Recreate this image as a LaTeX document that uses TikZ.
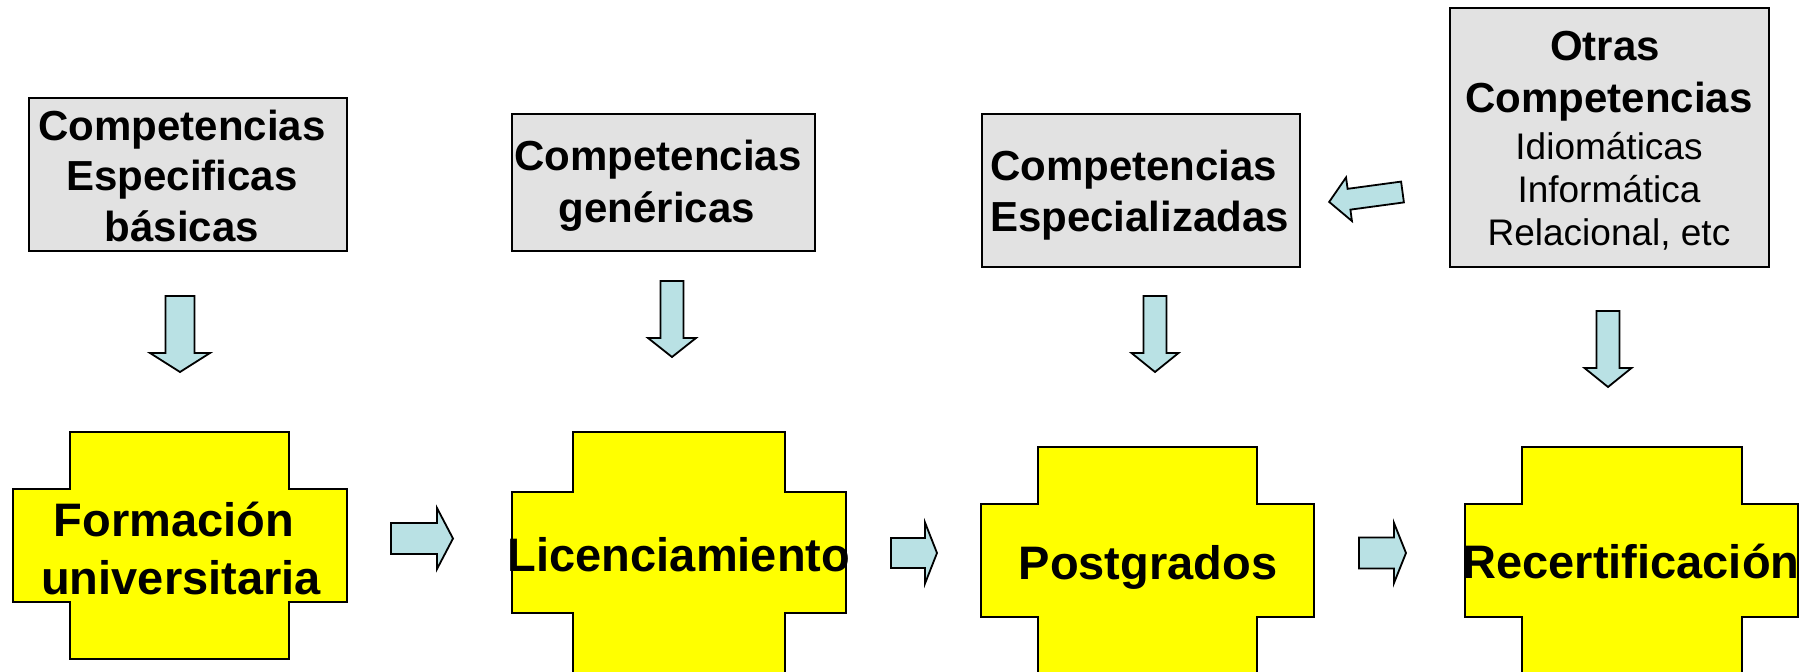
\documentclass[tikz,border=0pt]{standalone}
\usepackage{fontspec}
\setmainfont{Liberation Sans}
\definecolor{boxgray}{RGB}{226,226,226}
\definecolor{arrowblue}{RGB}{185,225,228}
\definecolor{crossyellow}{RGB}{255,255,0}
\newcommand\mybold{\fontsize{42}{50}\selectfont\bfseries}
\newcommand\myreg{\fontsize{37}{43}\selectfont}
\newcommand\mybig{\fontsize{47}{58}\selectfont\bfseries}
\tikzset{
  compbox/.style={rectangle, draw=black, line width=2pt, fill=boxgray, inner sep=0pt},
  crossshape/.style={draw=black, line width=2pt, fill=crossyellow, line join=miter},
  arrowfill/.style={draw=black, line width=1.8pt, fill=arrowblue, line join=miter},
  lbl/.style={inner sep=0pt, anchor=base, text=black},
  lblw/.style={inner sep=0pt, anchor=base west, text=black},
  pics/blockarrow/.style n args={4}{code={
    \filldraw[arrowfill] (0,-#1) -- (#3,-#1) -- (#3,-#2) -- ({#3+#4},0) -- (#3,#2) -- (#3,#1) -- (0,#1) -- cycle;
  }},
}
\begin{document}
\begin{tikzpicture}[x=1pt,y=-1pt]
\useasboundingbox (0,0) rectangle (1813,672);
\clip (0,0) rectangle (1813,672);
\fill[white] (0,0) rectangle (1813,672);

% ---- top boxes ----
\node[compbox, minimum width=318pt, minimum height=153pt] (b1) at (188,174.5) {};
\node[compbox, minimum width=303pt, minimum height=137pt] (b2) at (663.5,182.5) {};
\node[compbox, minimum width=318pt, minimum height=153pt] (b3) at (1141,190.5) {};
\node[compbox, minimum width=319pt, minimum height=259pt] (b4) at (1609.5,137.5) {};

\node[lbl] (t1a) at (182,140) {\mybold Competencias};
\node[lbl] (t1b) at (182,190) {\mybold Especificas};
\node[lbl] (t1c) at (182,241) {\mybold básicas};

\node[lbl] (t2a) at (658,170) {\mybold Competencias};
\node[lbl] (t2b) at (657,222) {\mybold genéricas};

\node[lblw] (t3a) at (990,180) {\mybold Competencias};
\node[lblw] (t3b) at (990,231) {\mybold Especializadas};

\node[lbl] (t4a) at (1605,60) {\mybold Otras};
\node[lbl] (t4b) at (1609,112) {\mybold Competencias};
\node[lbl] (t4c) at (1609,159) {\myreg Idiomáticas};
\node[lbl] (t4d) at (1609,202) {\myreg Informática};
\node[lbl] (t4e) at (1609,245) {\myreg Relacional, etc};

% ---- crosses ----
\filldraw[crossshape] (70,432) -| (289,489) -| (347,602) -| (289,659) -| (70,602) -| (13,489) -| (70,432) -- cycle;
\filldraw[crossshape] (573,432) -| (785,492) -| (846,613) -| (785,690) -| (573,613) -| (512,492) -| (573,432) -- cycle;
\filldraw[crossshape] (1038,447) -| (1257,504) -| (1314,617) -| (1257,690) -| (1038,617) -| (981,504) -| (1038,447) -- cycle;
\filldraw[crossshape] (1522,447) -| (1742,504) -| (1798,617) -| (1742,690) -| (1522,617) -| (1465,504) -| (1522,447) -- cycle;

\node[lbl] (c1a) at (174,536) {\mybig Formación};
\node[lbl] (c1b) at (181,594) {\mybig universitaria};
\node[lbl] (c2) at (679,571) {\mybig Licenciamiento};
\node[lbl] (c3) at (1148,579) {\mybig Postgrados};
\node[lbl] (c4) at (1631,578) {\mybig Recertificación};

% ---- block arrows ----
\pic[rotate=-90] (d1) at (180,296) {blockarrow={14.5}{30}{57}{19}};
\pic[rotate=-90] (d2) at (672,281) {blockarrow={11.5}{24}{57}{19}};
\pic[rotate=-90] (d3) at (1155,296) {blockarrow={11.5}{23.5}{57}{19}};
\pic[rotate=-90] (d4) at (1608,311) {blockarrow={11.5}{23.5}{57}{19}};

\pic (r1) at (391,538.5) {blockarrow={15.5}{30.5}{46}{16}};
\pic (r2) at (891,553) {blockarrow={15}{30.5}{34}{12}};
\pic (r3) at (1359,553) {blockarrow={15.5}{30}{35}{12}};

\pic[rotate=187.7] (l1) at (1402.5,192) {blockarrow={10.5}{22}{54}{20}};
\end{tikzpicture}
\end{document}
